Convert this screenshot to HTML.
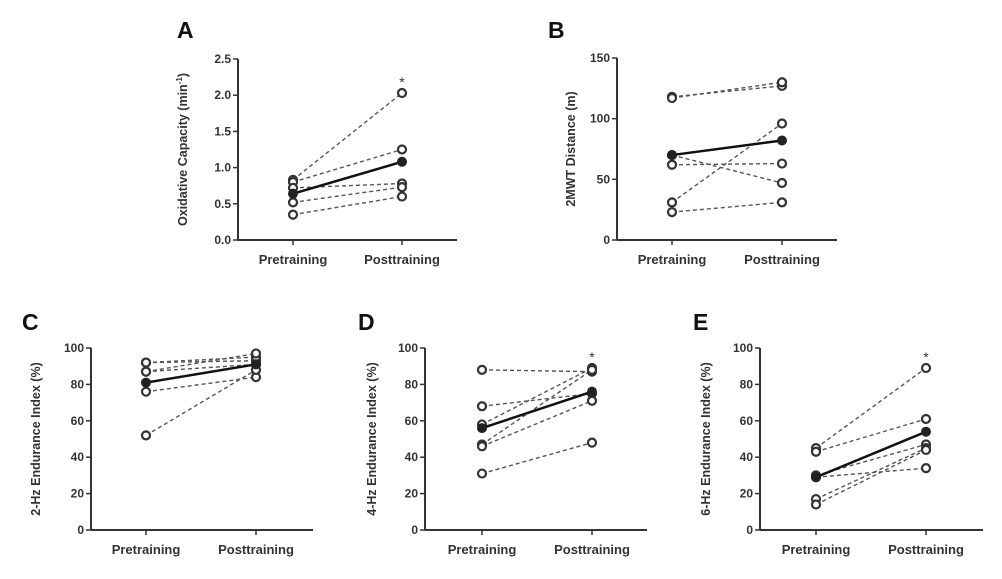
<!DOCTYPE html>
<html><head><meta charset="utf-8"><style>
body{margin:0;background:#fff;}
svg{display:block;font-family:"Liberation Sans",Arial,sans-serif;}
.tk{font-size:12px;fill:#333;font-weight:bold;}
.cat{font-size:13px;fill:#333;font-weight:bold;}
.yt{font-size:12.5px;fill:#333;font-weight:bold;}
.lt{font-size:23px;font-weight:bold;fill:#111;}
</style></head><body>
<svg id="fig" width="1002" height="579" viewBox="0 0 1002 579"></svg>
<script>
// Panel data
const categories = ["Pretraining","Posttraining"];
const aPre = [0.83,0.80,0.72,0.52,0.35];
const aPost = [2.03,1.25,0.78,0.73,0.60];
const aMean = [0.64,1.08];
const aTicks = ["0.0","0.5","1.0","1.5","2.0","2.5"];
const bPre = [118,117,70,62,31,23];
const bPost = [127,130,47,63,96,31];
const bMean = [70,82];
const bTicks = ["0","50","100","150"];
const cPre = [92,92,87,87,76,52];
const cPost = [93,95,97,91,84,88];
const cMean = [81,91];
const pctTicks = ["0","20","40","60","80","100"];
const dPre = [88,68,58,47,46,31];
const dPost = [87,75,89,88,71,48];
const dMean = [56,76];
const ePre = [45,43,30,17,14,29];
const ePost = [89,61,47,45,44,34];
const eMean = [29,54];

const NS="http://www.w3.org/2000/svg";
const svg=document.getElementById('fig');
function mk(tag,attrs,parent){const e=document.createElementNS(NS,tag);for(const k in attrs)e.setAttribute(k,attrs[k]);(parent||svg).appendChild(e);return e;}

function panel(p){
  const g=mk('g',{});
  
  
  const ymin=0,ymax=p.ymax;
  const y=v=>p.y0+(p.y1-p.y0)*(v-ymin)/(ymax-ymin);
  const xs=[p.xPre,p.xPost];
  const ya=mk('line',{x1:p.ax,y1:p.y1,x2:p.ax,y2:p.y0,stroke:'#333','stroke-width':2},g);
  
  
  const xa=mk('line',{x1:p.ax,y1:p.y0,x2:p.xr,y2:p.y0,stroke:'#333','stroke-width':2},g);
  
  
  p.ticks.forEach(t=>{
    const v=parseFloat(t),yy=y(v);
    mk('line',{x1:p.ax-5,y1:yy,x2:p.ax,y2:yy,stroke:'#333','stroke-width':1.5},g);
    const tx=mk('text',{x:p.ax-7,y:yy+4,'text-anchor':'end',class:'tk'},g);
    tx.textContent=t;
    
    
  });
  categories.forEach((c,i)=>{
    mk('line',{x1:xs[i],y1:p.y0,x2:xs[i],y2:p.y0+5,stroke:'#333','stroke-width':1.5},g);
    const tx=mk('text',{x:xs[i],y:p.y0+24,'text-anchor':'middle',class:'cat'},g);
    tx.textContent=c;
    
    
  });
  p.pre.forEach((v,i)=>{
    const l=mk('line',{x1:xs[0],y1:y(v),x2:xs[1],y2:y(p.post[i]),stroke:'#555','stroke-width':1.4,'stroke-dasharray':'4,3'},g);
    
    
  });
  p.pre.forEach((v,i)=>{
    [v,p.post[i]].forEach((vv,j)=>{
      const c=mk('circle',{cx:xs[j],cy:y(vv),r:4,fill:'#fff',stroke:'#333','stroke-width':2.2},g);
      
      
    });
  });
  const ml=mk('line',{x1:xs[0],y1:y(p.mean[0]),x2:xs[1],y2:y(p.mean[1]),stroke:'#111','stroke-width':2.5},g);
  
  
  p.mean.forEach((v,j)=>{
    const c=mk('circle',{cx:xs[j],cy:y(v),r:5,fill:'#222'},g);
    
    
  });
  if(p.star){
    const s=mk('text',{x:xs[1],y:y(Math.max(...p.post))-6,'text-anchor':'middle','font-size':'14px',fill:'#333'},g);
    s.textContent='*';
    
    
  }
  const ym=(p.y0+p.y1)/2;
  const yt=mk('text',{x:p.ytx,y:ym,'text-anchor':'middle',class:'yt',transform:`rotate(-90 ${p.ytx} ${ym})`},g);
  yt.innerHTML=p.ytitle;
  
  
  const lt=mk('text',{x:p.lx,y:p.ly,class:'lt'},g);
  lt.textContent=p.id;
  
  
}
panel({id:'A',ax:238,xr:457,y0:240,y1:59,ymax:2.5,xPre:293,xPost:402,pre:aPre,post:aPost,mean:aMean,ticks:aTicks,star:true,ytx:187,ytitle:'Oxidative  Capacity (min<tspan dy="-5" font-size="8">-1</tspan><tspan dy="5">)</tspan>',lx:177,ly:38});
panel({id:'B',ax:617,xr:837,y0:240,y1:58,ymax:150,xPre:672,xPost:782,pre:bPre,post:bPost,mean:bMean,ticks:bTicks,star:false,ytx:575,ytitle:'2MWT Distance (m)',lx:548,ly:38});
panel({id:'C',ax:91,xr:313,y0:530,y1:348,ymax:100,xPre:146,xPost:256,pre:cPre,post:cPost,mean:cMean,ticks:pctTicks,star:false,ytx:40,ytitle:'2-Hz Endurance  Index (%)',lx:22,ly:330});
panel({id:'D',ax:425,xr:647,y0:530,y1:348,ymax:100,xPre:482,xPost:592,pre:dPre,post:dPost,mean:dMean,ticks:pctTicks,star:true,ytx:376,ytitle:'4-Hz Endurance  Index (%)',lx:358,ly:330});
panel({id:'E',ax:760,xr:983,y0:530,y1:348,ymax:100,xPre:816,xPost:926,pre:ePre,post:ePost,mean:eMean,ticks:pctTicks,star:true,ytx:710,ytitle:'6-Hz Endurance  Index (%)',lx:693,ly:330});
</script>
</body></html>
